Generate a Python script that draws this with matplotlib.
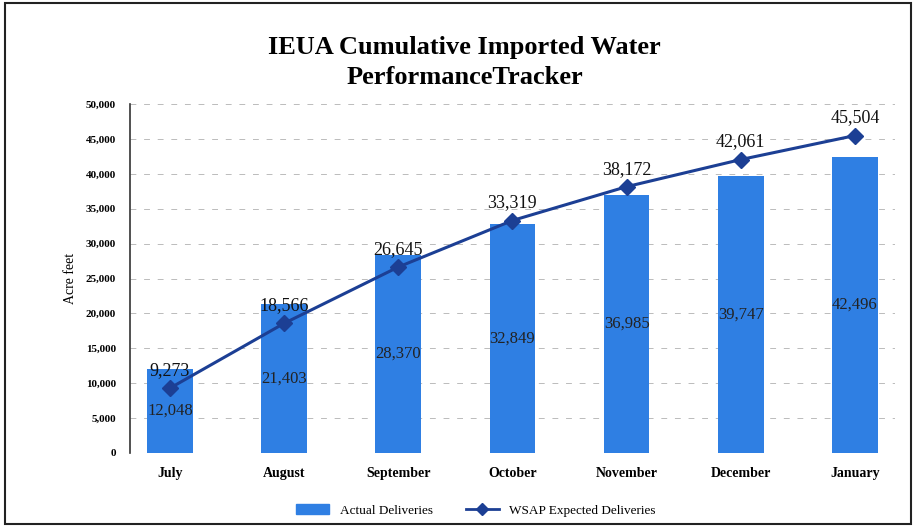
import matplotlib.pyplot as plt
from matplotlib.ticker import FuncFormatter
from matplotlib.lines import Line2D
from matplotlib.patches import Patch

months = ['July', 'August', 'September', 'October', 'November', 'December', 'January']
actual = [12048, 21403, 28370, 32849, 36985, 39747, 42496]
expected = [9273, 18566, 26645, 33319, 38172, 42061, 45504]
yticks = [0, 5000, 10000, 15000, 20000, 25000, 30000, 35000, 40000, 45000, 50000]

serif = ['Liberation Serif', 'DejaVu Serif']
bar_color = '#2f7fe3'
line_color = '#1c3f94'

fig = plt.figure(figsize=(9.15, 5.29), dpi=100)
ax = fig.add_axes([0.142, 0.144, 0.836, 0.659])

x = list(range(len(months)))
ax.bar(x, actual, width=0.4, color=bar_color, edgecolor='none', zorder=2)
ax.plot(x, expected, color=line_color, lw=2.2, marker='D', ms=8, zorder=3)

# labels inside bars
for i, v in enumerate(actual):
    ax.text(i, v / 2, f'{v:,}', ha='center', va='center', fontsize=12,
            family=serif, color='#222222', zorder=4)
# labels above the line
for i, v in enumerate(expected):
    ax.text(i, v + 1300, f'{v:,}', ha='center', va='bottom', fontsize=13,
            family=serif, color='#111111', zorder=4)

ax.set_xlim(-0.35, 6.35)
ax.set_ylim(0, 50000)
ax.set_yticks(yticks)
ax.yaxis.set_major_formatter(FuncFormatter(lambda v, p: f'{int(v):,}'))
ax.set_xticks(x)
ax.set_xticklabels(months, family=serif, fontsize=10, fontweight='bold')
for lab in ax.get_yticklabels():
    lab.set_family(serif)
    lab.set_fontsize(8)
    lab.set_fontweight('bold')
ax.tick_params(axis='both', length=0, pad=10)
ax.set_ylabel('Acre feet', family=serif, fontsize=10, labelpad=6)

ax.grid(axis='y', color='#bbbbbb', linestyle=(0, (6, 8)), lw=0.7, zorder=0)
for s in ['top', 'right', 'bottom']:
    ax.spines[s].set_visible(False)
ax.spines['left'].set_color('#333333')
ax.spines['left'].set_linewidth(1.2)

fig.text(0.508, 0.882, 'IEUA Cumulative Imported Water\nPerformanceTracker',
         ha='center', va='center', fontsize=19, fontweight='bold',
         family=serif, linespacing=1.35)

handles = [Patch(color=bar_color, label='Actual Deliveries'),
           Line2D([0], [0], color=line_color, lw=2, marker='D', ms=6,
                  label='WSAP Expected Deliveries')]
fig.legend(handles=handles, loc='center', bbox_to_anchor=(0.52, 0.035),
           ncol=2, frameon=False, prop={'family': serif, 'size': 9.5},
           handlelength=2.5, columnspacing=2.5)

# outer frame of the chart
fig.add_artist(plt.Rectangle((0.006, 0.01), 0.99, 0.985, transform=fig.transFigure,
                             fill=False, edgecolor='#222222', lw=1.5))

fig.savefig('out.png', dpi=100)
